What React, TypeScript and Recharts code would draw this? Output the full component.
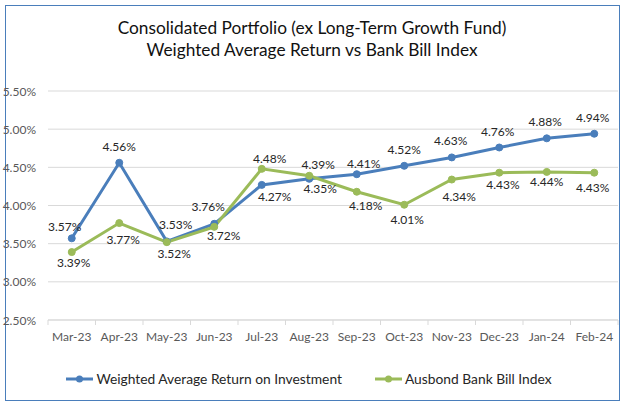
import React from "react";
import {
  LineChart,
  Line,
  XAxis,
  YAxis,
  CartesianGrid,
  Legend,
  LabelList,
} from "recharts";

const months = [
  "Mar-23", "Apr-23", "May-23", "Jun-23", "Jul-23", "Aug-23",
  "Sep-23", "Oct-23", "Nov-23", "Dec-23", "Jan-24", "Feb-24",
];
const weightedReturn = [3.57, 4.56, 3.53, 3.76, 4.27, 4.35, 4.41, 4.52, 4.63, 4.76, 4.88, 4.94];
const bankBillIndex = [3.39, 3.77, 3.52, 3.72, 4.48, 4.39, 4.18, 4.01, 4.34, 4.43, 4.44, 4.43];
const yTicks = [2.5, 3.0, 3.5, 4.0, 4.5, 5.0, 5.5];

// label nudges (dx, dy) relative to each point, as placed in the original
const blueLabelOffsets = [
  [-7, -11.5], [0, -16.5], [9, -17], [-6, -17], [13, 12], [11, 10],
  [7, -11], [0, -16], [-1, -16.5], [-1.5, -16], [-1.5, -17], [-1.5, -16],
];
const greenLabelOffsets = [
  [2, 10.5], [4, 16.5], [7.5, 11.3], [9.5, 9], [8, -10.4], [9, -11.5],
  [9, 13.4], [3, 14.4], [7.4, 17], [3.6, 12], [0, 10], [-1.5, 15],
];

const BLUE = "#4A7EBB";
const GREEN = "#9BBB59";
const W = 624;
const H = 406;
const PLOT_LEFT = 48;
const PLOT_RIGHT = 6;
const PLOT_BOTTOM = 320;
const BAND = (W - PLOT_LEFT - PLOT_RIGHT) / months.length;
const FONT = "Lato, 'Open Sans', sans-serif";

const data = months.map((m, i) => ({
  month: m,
  weighted: weightedReturn[i],
  bankBill: bankBillIndex[i],
}));

const makeLabel = (offsets: number[][]) => (props: any) => {
  const { x, y, value, index } = props;
  const [dx, dy] = offsets[index] || [0, -14];
  return (
    <text
      x={x + dx}
      y={y + dy}
      textAnchor="middle"
      dominantBaseline="central"
      fontSize={12}
      fontFamily={FONT}
      fill="#262626"
    >
      {Number(value).toFixed(2)}%
    </text>
  );
};

const XTick = (props: any) => {
  const { x, payload, index } = props;
  const cx = payload.coordinate ?? x;
  return (
    <g>
      <line x1={cx - BAND / 2} x2={cx - BAND / 2} y1={PLOT_BOTTOM} y2={PLOT_BOTTOM + 5} stroke="#D9D9D9" />
      {index === months.length - 1 && (
        <line x1={cx + BAND / 2} x2={cx + BAND / 2} y1={PLOT_BOTTOM} y2={PLOT_BOTTOM + 5} stroke="#D9D9D9" />
      )}
      <text
        x={cx}
        y={PLOT_BOTTOM + 16}
        textAnchor="middle"
        dominantBaseline="central"
        fontSize={12}
        fontFamily={FONT}
        fill="#595959"
      >
        {payload.value}
      </text>
    </g>
  );
};

const YTick = (props: any) => {
  const { y, payload } = props;
  return (
    <text
      x={36}
      y={y}
      textAnchor="end"
      dominantBaseline="central"
      fontSize={12}
      fontFamily={FONT}
      fill="#595959"
    >
      {Number(payload.value).toFixed(2)}%
    </text>
  );
};

const legendItems = [
  { name: "Weighted Average Return on Investment", color: BLUE },
  { name: "Ausbond Bank Bill Index", color: GREEN },
];

const renderLegend = () => (
  <div
    style={{
      display: "flex",
      justifyContent: "center",
      gap: 33,
      height: 20,
      lineHeight: "20px",
      fontFamily: FONT,
      fontSize: 13.8,
      color: "#262626",
    }}
  >
    {legendItems.map((it) => (
      <div key={it.name} style={{ display: "flex", alignItems: "center" }}>
        <svg width={30} height={20}>
          <line x1={0} x2={27} y1={10} y2={10} stroke={it.color} strokeWidth={3} />
          <circle cx={13.5} cy={10} r={3.5} fill={it.color} />
        </svg>
        <span>{it.name}</span>
      </div>
    ))}
  </div>
);

export default function App() {
  return (
    <div style={{ position: "absolute", left: 0, top: 0, width: W, height: H, background: "#fff" }}>
      <div
        style={{
          position: "absolute",
          left: 5,
          top: 5,
          width: 613,
          height: 394,
          border: "1px solid #4A7EBB",
          pointerEvents: "none",
        }}
      />
      <div
        style={{
          position: "absolute",
          left: 0,
          top: 17,
          width: W,
          textAlign: "center",
          fontFamily: FONT,
          fontSize: 17.3,
          lineHeight: "22px",
          color: "#111",
        }}
      >
        Consolidated Portfolio (ex Long-Term Growth Fund)
        <br />
        Weighted Average Return vs Bank Bill Index
      </div>
      <div style={{ position: "absolute", left: 0, top: 0 }}>
        <LineChart
          width={W}
          height={H}
          data={data}
          margin={{ top: 91, right: PLOT_RIGHT, left: 0, bottom: 17 }}
        >
          <CartesianGrid vertical={false} stroke="#D9D9D9" />
          <XAxis
            dataKey="month"
            height={49}
            padding={{ left: BAND / 2, right: BAND / 2 }}
            axisLine={{ stroke: "#D9D9D9" }}
            tickLine={false}
            tick={<XTick />}
            interval={0}
          />
          <YAxis
            width={PLOT_LEFT}
            domain={[2.5, 5.5]}
            ticks={yTicks}
            axisLine={false}
            tickLine={false}
            tick={<YTick />}
          />
          <Legend verticalAlign="bottom" content={renderLegend} />
          <Line
            dataKey="weighted"
            name="Weighted Average Return on Investment"
            stroke={BLUE}
            strokeWidth={3}
            dot={{ r: 3.5, fill: BLUE, stroke: BLUE, strokeWidth: 1 }}
            isAnimationActive={false}
          >
            <LabelList dataKey="weighted" content={makeLabel(blueLabelOffsets)} />
          </Line>
          <Line
            dataKey="bankBill"
            name="Ausbond Bank Bill Index"
            stroke={GREEN}
            strokeWidth={3}
            dot={{ r: 3.5, fill: GREEN, stroke: GREEN, strokeWidth: 1 }}
            isAnimationActive={false}
          >
            <LabelList dataKey="bankBill" content={makeLabel(greenLabelOffsets)} />
          </Line>
        </LineChart>
      </div>
    </div>
  );
}
